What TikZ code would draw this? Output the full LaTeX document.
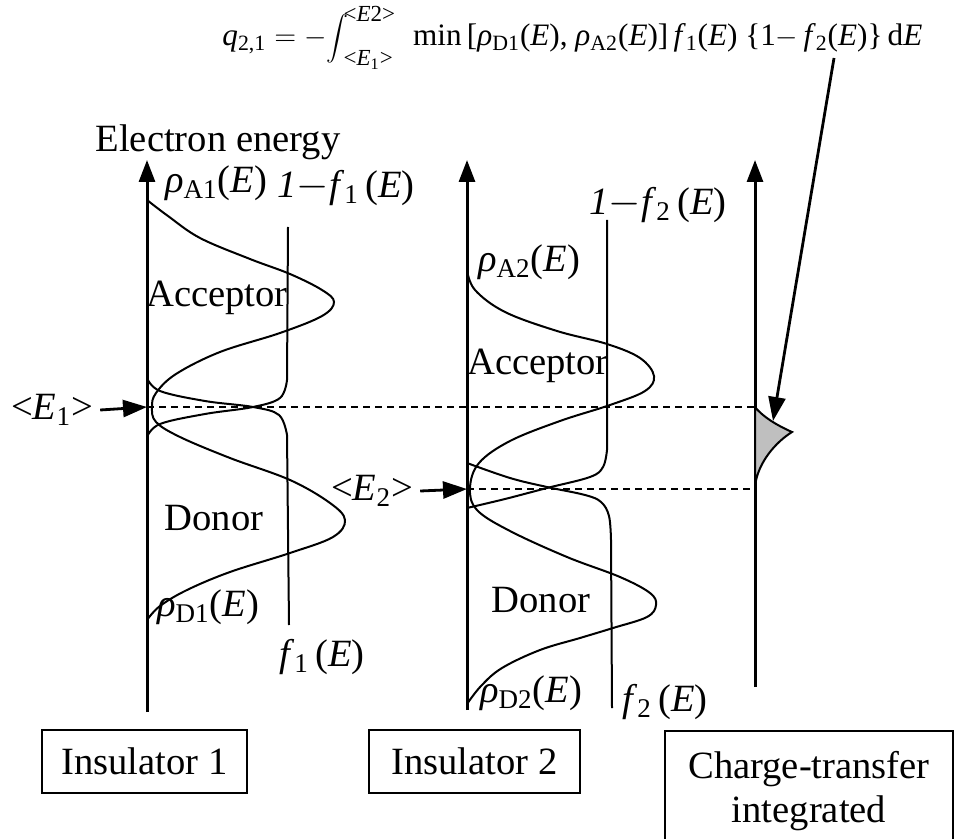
\documentclass[tikz,border=0pt]{standalone}
\usepackage{amsmath}
\usepackage{graphicx}
\usepackage{fontspec}
\setmainfont{Liberation Serif}
\usetikzlibrary{arrows.meta}

\newcommand{\dens}[1]{\textit{ρ}$_{\text{#1}}$(\textit{E})}
\newcommand{\fermi}[1]{\textit{f}$_{\text{#1}}$\,(\textit{E})}
\newcommand{\bigint}{\vcenter{\hbox{\scalebox{0.76}{$\displaystyle\int$}}}}
\newcommand{\intlims}[2]{\vcenter{\hbox{\fontsize{11.5}{13}\selectfont
    \begin{tabular}{@{}l@{}}#2\\[9pt]#1\end{tabular}}}}

\begin{document}
\begin{tikzpicture}[
    x=0.5pt, y=-0.5pt,
    every node/.style={font=\fontsize{19.3}{22}\selectfont, inner sep=1pt},
    axis/.style={line width=1.5pt, -{Triangle[length=11pt, width=8pt]}},
    ptr/.style={line width=1.4pt, -{Triangle[length=12pt, width=8.5pt]}},
    curve/.style={line width=1pt},
    level/.style={line width=1pt, dash pattern=on 3.5pt off 2.5pt},
    panel/.style={draw, line width=1pt, align=center},
]
\useasboundingbox (0,0) rectangle (968,839);

% Axes of the three panels
\coordinate (ax1b) at (147,712); \coordinate (ax1t) at (147,160);
\coordinate (ax2b) at (467,710); \coordinate (ax2t) at (467,160);
\coordinate (ax3b) at (755,687); \coordinate (ax3t) at (755,160);
\draw[axis] (ax1b) -- (ax1t);
\draw[axis] (ax2b) -- (ax2t);
\draw[axis] (ax3b) -- (ax3t);

% Mean energy levels
\coordinate (e1a) at (147,407); \coordinate (e1b) at (755,407);
\coordinate (e2a) at (467,489); \coordinate (e2b) at (755,489);
\draw[level] (e1a) -- (e1b);
\draw[level] (e2a) -- (e2b);

% Insulator 1: acceptor and donor densities, Fermi functions
\draw[curve] plot[smooth, tension=0.6] coordinates {
    (147,200) (168,216) (200,238) (250,259) (290,274) (322,290) (334,302)
    (322,316) (280,333) (220,352) (176,374) (156,393) (152,407) (156,422)
    (180,437) (230,458) (290,480) (330,503) (345,520) (333,537) (290,553)
    (230,572) (187,590) (160,606) (147,620)};
\draw[curve] plot[smooth, tension=0.6] coordinates {
    (147,378) (160,391) (205,401) (253,407) (279,415) (287,435)} -- (289,625);
\draw[curve] (288,227) -- plot[smooth, tension=0.6] coordinates {
    (287,380) (280,398) (253,407) (205,414) (160,424) (147,437)};

% Insulator 2: acceptor and donor densities, Fermi functions
\draw[curve] plot[smooth, tension=0.6] coordinates {
    (467,270) (475,290) (505,312) (557,331) (607,344) (640,358) (654,376)
    (645,391) (610,405) (560,421) (510,441) (479,463) (470,488) (477,510)
    (510,531) (567,557) (620,577) (650,593) (656,605) (647,617) (613,628)
    (580,638) (540,650) (502,668) (481,686) (467,704)};
\draw[curve] plot[smooth, tension=0.6] coordinates {
    (467,463) (510,478) (547,487) (585,495) (601,502) (609,516) (611,540)}
    -- (612,708);
\draw[curve] (607,220) -- plot[smooth, tension=0.6] coordinates {
    (607,450) (603,467) (590,477) (547,488) (505,499) (467,508)};

% Integrated charge transfer
\filldraw[curve, fill=black!25] (e1b) .. controls (762,416) and (776,425) .. (792,432)
    .. controls (776,442) and (758,462) .. (755,486) -- cycle;

% Labels
\node (title) at (218,142) {Electron energy};
\node (rA1) at (216,183) {\dens{A1}};
\node (omf1) at (346,188) {\textit{1}$-$\fermi{1}};
\node (acc1) at (217,298) {Acceptor};
\node (don1) at (214,518) {Donor};
\node (rD1) at (208,607) {\dens{D1}};
\node (f1) at (322,657) {\fermi{1}};
\node (rA2) at (529,262) {\dens{A2}};
\node (omf2) at (658,205) {\textit{1}$-$\fermi{2}};
\node (acc2) at (538,366) {Acceptor};
\node (don2) at (541,600) {Donor};
\node (rD2) at (531,693) {\dens{D2}};
\node (f2) at (665,702) {\fermi{2}};
\node (lE1) at (52,410) {<\textit{E}$_{\text{1}}$>};
\node (lE2) at (372,491) {<\textit{E}$_{\text{2}}$>};
\draw[ptr] (lE1.east) ++(5,0) -- (e1a);
\draw[ptr] (lE2.east) ++(5,0) -- (e2a);

% Formula and pointer to the shaded area
\node[font=\fontsize{15.6}{20}\selectfont, anchor=base west] (eq) at (220,46)
    {\textit{q}$_{\text{2,1}}=-\bigint\!\intlims{<\textit{E}$_{\text{1}}$>}{<\textit{E}2>}$\hspace{9pt}min\,[\dens{D1}, \dens{A2}]\,\textit{f}$_{\text{1}}$(\textit{E}) \{1$-$\,\textit{f}$_{\text{2}}$(\textit{E})\}\,d\textit{E}};
\coordinate (tip) at (773,421);
\draw[ptr] (834,58) -- (tip);

% Panel captions
\node[panel, minimum width=102.5pt, minimum height=31.5pt] (ins1) at (144.5,761.5) {Insulator 1};
\node[panel, minimum width=105.5pt, minimum height=31.5pt] (ins2) at (474.5,761.5) {Insulator 2};
\node[panel, minimum width=144pt, minimum height=60pt] (ctr) at (809,791) {Charge-transfer\\integrated};
\end{tikzpicture}
\end{document}
